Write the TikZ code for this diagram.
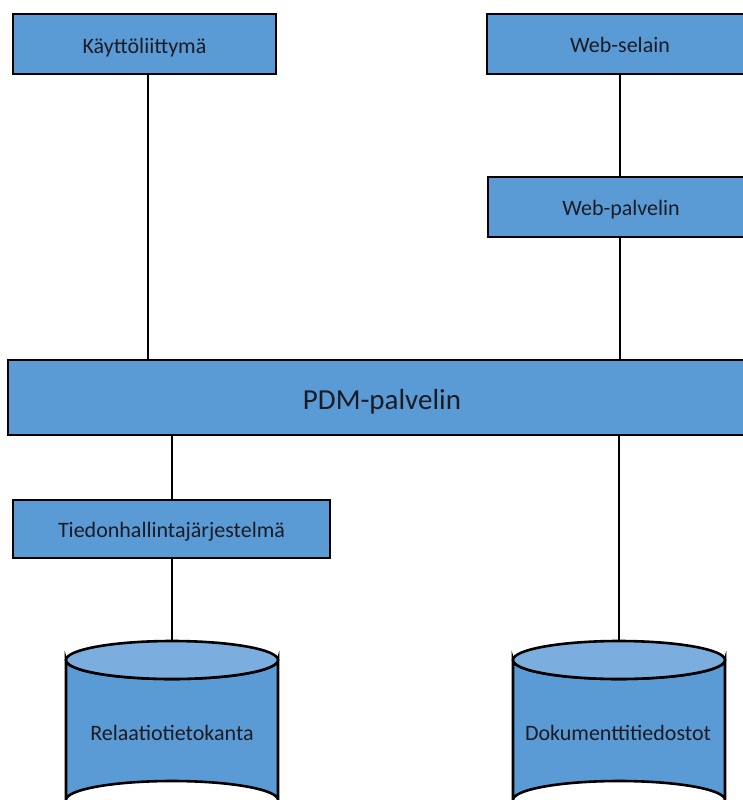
\documentclass[tikz,border=0pt]{standalone}
\usepackage{fontspec}
\setmainfont{Carlito}
\begin{document}
\begin{tikzpicture}[x=1pt,y=-1pt,
  block/.style={draw=black,line width=2.6pt,fill=boxblue},
  label/.style={text=labelink,font=\fontsize{22}{26}\selectfont,inner sep=0pt,anchor=base},
  biglabel/.style={text=labelink,font=\fontsize{29}{34}\selectfont,inner sep=0pt,anchor=base},
  link/.style={draw=black,line width=2.6pt}]
\definecolor{boxblue}{HTML}{5B9BD5}
\definecolor{toplight}{HTML}{7BAEDF}
\definecolor{labelink}{HTML}{1B1B24}
\useasboundingbox (0,0) rectangle (743,800);
\clip (0,0) rectangle (743,800);

% rectangular components
\path[block] (13,14) rectangle (276,74);
\node[label] (ui) at (144.5,53) {Käyttöliittymä};
\path[block] (487,14) rectangle (760,74);
\node[label] (browser) at (620,52.5) {Web-selain};
\path[block] (488,177) rectangle (760,237);
\node[label] (websrv) at (621,215) {Web-palvelin};
\path[block] (8,360) rectangle (760,435);
\node[biglabel] (pdm) at (382,409) {PDM-palvelin};
\path[block] (13,500) rectangle (330,558);
\node[label] (dbms) at (171.5,537) {Tiedonhallintajärjestelmä};

% edge anchors of the rectangles
\coordinate (uiB) at (148,74);
\coordinate (brB) at (620,74);
\coordinate (wsT) at (620,177);
\coordinate (wsB) at (620,237);
\coordinate (pdmT1) at (148,360);
\coordinate (pdmT2) at (620,360);
\coordinate (pdmB1) at (172,435);
\coordinate (pdmB2) at (619,435);
\coordinate (dbmsT) at (172,500);
\coordinate (dbmsB) at (172,558);

% storage cylinders
\foreach \cx/\nm in {172/rel,619/doc}{
  \path[block] (\cx-106,660) -- (\cx-106,800)
     arc[start angle=180,end angle=360,x radius=106,y radius=19]
     -- (\cx+106,660) arc[start angle=0,end angle=180,x radius=106,y radius=19] -- cycle;
  \path[block,fill=toplight] (\cx,660) ellipse[x radius=106,y radius=19];
  \coordinate (\nm T) at (\cx,641);
}
\node[label] (rel) at (172,740) {Relaatiotietokanta};
\node[label] (doc) at (618,740) {Dokumenttitiedostot};

% connectors
\draw[link] (uiB) -- (pdmT1);
\draw[link] (brB) -- (wsT);
\draw[link] (wsB) -- (pdmT2);
\draw[link] (pdmB1) -- (dbmsT);
\draw[link] (dbmsB) -- (relT);
\draw[link] (pdmB2) -- (docT);
\end{tikzpicture}
\end{document}
